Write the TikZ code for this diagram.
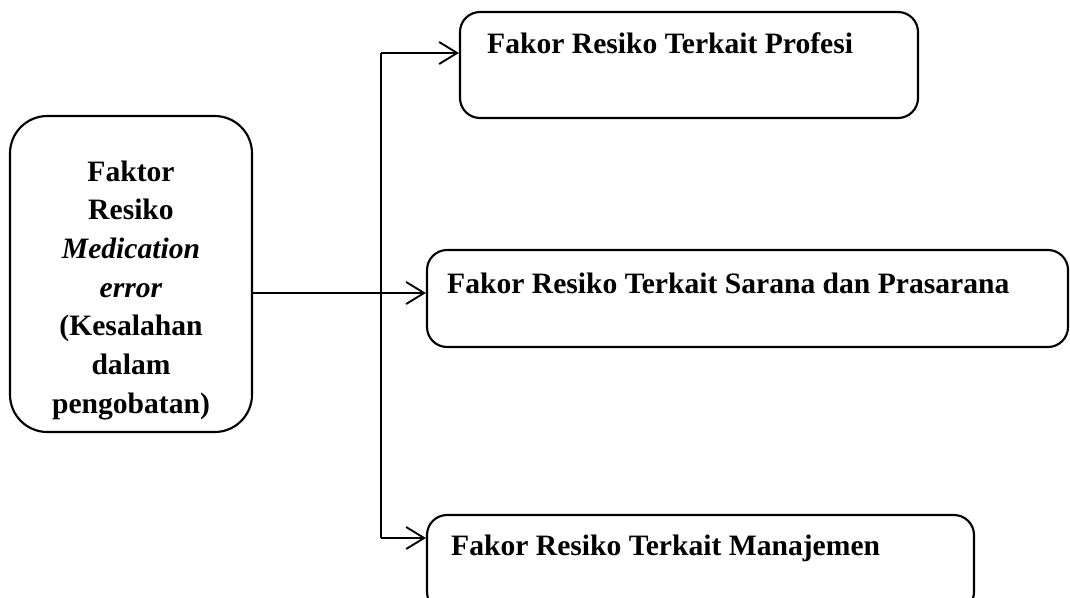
\documentclass[tikz,border=0pt]{standalone}
\usepackage{fontspec}
\setmainfont{Liberation Serif}
\usetikzlibrary{calc, arrows.meta}
\def\rad{15pt}
\tikzset{box/.style={draw, line width=1.6pt, rounded corners=\rad, inner sep=0pt}}
\tikzset{conn/.style={line width=1.4pt}}
\tikzset{arr/.style={conn, -{Straight Barb[length=13.5pt, width=16.5pt, line width=1.4pt]}}}
\tikzset{lbl/.style={font=\fontsize{22.2}{29}\selectfont\bfseries, inner sep=0pt}}

\begin{document}
\begin{tikzpicture}[x=0.75pt, y=-0.75pt]
        \useasboundingbox (0,0) rectangle (1070,597);
        % Boxes
        \node[box, rounded corners=28pt, minimum width=181.5pt, minimum height=237pt] (src) at (131,274) {};
        \node[box, minimum width=343.5pt, minimum height=79.5pt] (prof) at (689,65) {};
        \node[box, minimum width=480.75pt, minimum height=72.75pt] (sarana) at (747.5,298.5) {};
        \node[box, minimum width=410.25pt, minimum height=72.75pt] (manaj) at (700.5,563.5) {};
        % Texts
        \node[lbl, align=center] (srcT) at (131,290) {Faktor\\Resiko\\\textit{Medication}\\\textit{error}\\(Kesalahan\\dalam\\pengobatan)};
        \node[lbl, anchor=base west] (profT) at ($(prof.north west)+(28,43)$) {Fakor Resiko Terkait Profesi};
        \node[lbl, anchor=base west] (saranaT) at ($(sarana.north west)+(21,45)$) {Fakor Resiko Terkait Sarana dan Prasarana};
        \node[lbl, anchor=base west] (manajT) at ($(manaj.north west)+(25,42)$) {Fakor Resiko Terkait Manajemen};
        % Connectors
        \coordinate (jtop) at (381,53);
        \coordinate (jmid) at (381,293);
        \coordinate (jbot) at (381,538);
        \draw[conn] (jtop) -- (jbot);
        \draw[arr] (jtop) -- (prof.west |- jtop);
        \draw[arr] (src.east |- jmid) -- (sarana.west |- jmid);
        \draw[arr] (jbot) -- (manaj.west |- jbot);
\end{tikzpicture}
\end{document}
